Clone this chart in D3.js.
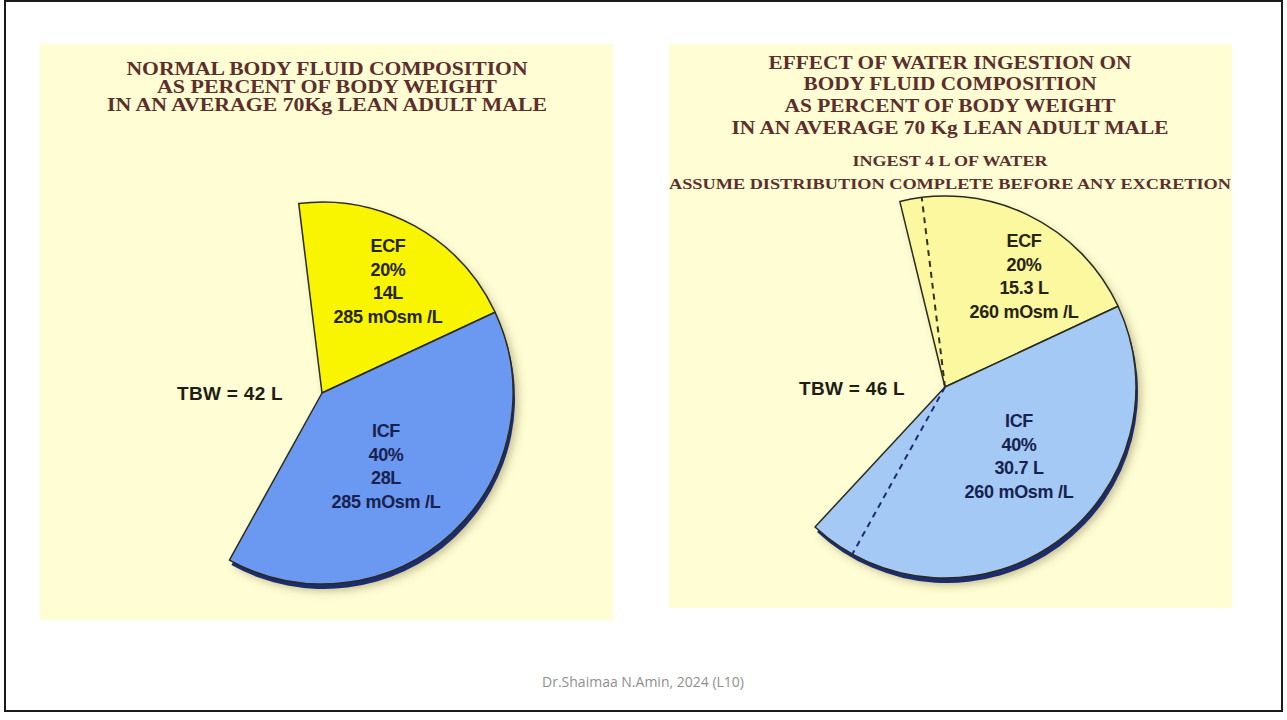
<!DOCTYPE html>
<html>
<head>
<meta charset="utf-8">
<script src="https://cdn.jsdelivr.net/npm/d3@7"></script>
<style>
  body { margin: 0; background: #fff; }
  svg { display: block; }
</style>
</head>
<body>
<svg id="slide" width="1287" height="720"></svg>
<script>
// values
const compartments = ['ECF', 'ICF']
const percentOfWeight = ['20%', '40%']
const normalLitres = [14, 28]
const waterLitres = [15.3, 30.7]
const osmolarity = [285, 260]
const totalBodyWater = [42, 46]
const bodyWeightKg = 70

const leftTitle = [
  'NORMAL BODY FLUID COMPOSITION',
  'AS PERCENT OF BODY WEIGHT',
  'IN AN AVERAGE 70Kg LEAN ADULT MALE'
]
const rightTitle = [
  'EFFECT OF WATER INGESTION ON',
  'BODY FLUID COMPOSITION',
  'AS PERCENT OF BODY WEIGHT',
  'IN AN AVERAGE 70 Kg LEAN ADULT MALE'
]
const rightNote = [
  'INGEST 4 L OF WATER',
  'ASSUME DISTRIBUTION COMPLETE BEFORE ANY EXCRETION'
]
const footer = 'Dr.Shaimaa N.Amin, 2024 (L10)'

// layout
const radius = 191
const boundary = 65 * Math.PI / 180 // fixed ECF / ICF split line
const angle = d3.scaleLinear().domain([0, bodyWeightKg]).range([0, 2 * Math.PI])

const panels = [
  {
    x: 40, y: 44, w: 573, h: 576, cx: 322, cy: 393,
    litres: normalLitres, osm: osmolarity[0], tbw: totalBodyWater[0], sep: '',
    fill: ['#f9f400', '#6b98f0'], rim: ['#55520a', '#1d2c6e'], text: ['#262410', '#17224f'],
    labelX: [66, 64], labelY: [-141, 44],
    title: leftTitle, titleX: 327, titleY: [75, 93, 111], titleW: [401, 340, 440], titleSize: 18,
    note: [], tbwX: 283, tbwY: 400, dashed: false
  },
  {
    x: 669, y: 44, w: 563, h: 564, cx: 945, cy: 387,
    litres: waterLitres, osm: osmolarity[1], tbw: totalBodyWater[1], sep: ' ',
    fill: ['#fbf8a0', '#a4c9f4'], rim: ['#4f4d1c', '#1d2c6e'], text: ['#262410', '#17224f'],
    labelX: [79, 74], labelY: [-140, 40],
    title: rightTitle, titleX: 950, titleY: [69, 90, 112, 134], titleW: [363, 293, 331, 437], titleSize: 18,
    note: rightNote, noteY: [166, 189], noteW: [195, 562],
    tbwX: 905, tbwY: 395, dashed: true
  }
]

const svg = d3.select('#slide')

const defs = svg.append('defs')
defs.append('filter')
  .attr('id', 'soft')
  .attr('x', '-20%').attr('y', '-20%')
  .attr('width', '140%').attr('height', '140%')
  .append('feGaussianBlur')
  .attr('stdDeviation', 4)

// slide frame
svg.append('rect')
  .attr('x', 5).attr('y', 1)
  .attr('width', 1277).attr('height', 710)
  .attr('fill', '#fff')
  .attr('stroke', '#1a1a1a')
  .attr('stroke-width', 2)

const arc = d3.arc().innerRadius(0).outerRadius(radius)

const wedges = (p) => {
  const ecf = angle(p.litres[0])
  const icf = angle(p.litres[1])
  return [
    {i: 0, startAngle: boundary - ecf, endAngle: boundary},
    {i: 1, startAngle: boundary, endAngle: boundary + icf}
  ]
}

panels.forEach((p) => {
  const g = svg.append('g')

  g.append('rect')
    .attr('x', p.x).attr('y', p.y)
    .attr('width', p.w).attr('height', p.h)
    .attr('fill', '#fefdd3')

  const titleFont = 'Liberation Serif, Times New Roman, serif'
  g.selectAll('text.title')
    .data(p.title)
    .enter().append('text')
    .attr('class', 'title')
    .attr('x', p.titleX)
    .attr('y', (d, i) => p.titleY[i])
    .attr('text-anchor', 'middle')
    .attr('textLength', (d, i) => p.titleW[i])
    .attr('lengthAdjust', 'spacingAndGlyphs')
    .style('font-family', titleFont)
    .style('font-weight', 'bold')
    .style('font-size', p.titleSize + 'px')
    .style('fill', '#5c2e2c')
    .text((d) => d)

  g.selectAll('text.note')
    .data(p.note)
    .enter().append('text')
    .attr('class', 'note')
    .attr('x', p.titleX)
    .attr('y', (d, i) => p.noteY[i])
    .attr('text-anchor', 'middle')
    .attr('textLength', (d, i) => p.noteW[i])
    .attr('lengthAdjust', 'spacingAndGlyphs')
    .style('font-family', titleFont)
    .style('font-weight', 'bold')
    .style('font-size', '14px')
    .style('fill', '#5c2e2c')
    .text((d) => d)

  const pie = g.append('g')
    .attr('transform', `translate(${p.cx},${p.cy})`)
  const data = wedges(p)

  // soft drop shadow
  pie.append('g')
    .attr('transform', 'translate(5,7)')
    .attr('filter', 'url(#soft)')
    .selectAll('path')
    .data(data)
    .enter().append('path')
    .attr('d', arc)
    .attr('fill', '#7d6c43')
    .attr('fill-opacity', 0.45)

  // dark rim gives the slab some thickness
  pie.append('g')
    .attr('transform', 'translate(2,5)')
    .selectAll('path')
    .data(data)
    .enter().append('path')
    .attr('d', arc)
    .attr('fill', (d) => p.rim[d.i])

  pie.selectAll('path.wedge')
    .data(data)
    .enter().append('path')
    .attr('class', 'wedge')
    .attr('d', arc)
    .attr('fill', (d) => p.fill[d.i])
    .attr('stroke', '#2b2b1c')
    .attr('stroke-width', 1.5)
    .attr('stroke-linejoin', 'round')

  // where the compartments ended before the water was taken in
  if (p.dashed) {
    const marks = [
      boundary - angle(normalLitres[0]),
      boundary + angle(normalLitres[1])
    ]
    pie.selectAll('line.before')
      .data(marks)
      .enter().append('line')
      .attr('class', 'before')
      .attr('x1', 0).attr('y1', 0)
      .attr('x2', (d) => d3.pointRadial(d, radius)[0])
      .attr('y2', (d) => d3.pointRadial(d, radius)[1])
      .attr('stroke', (d, i) => i ? '#1d2c6e' : '#33321a')
      .attr('stroke-width', 2)
      .attr('stroke-dasharray', '6,5')
  }

  const lines = compartments.map((c, i) => [
    c,
    percentOfWeight[i],
    `${p.litres[i]}${p.sep}L`,
    `${p.osm} mOsm /L`
  ])

  lines.forEach((ls, i) => {
    pie.append('text')
      .attr('x', p.labelX[i])
      .attr('y', p.labelY[i])
      .attr('text-anchor', 'middle')
      .style('font-family', 'Liberation Sans, Arial, sans-serif')
      .style('font-weight', 'bold')
      .style('font-size', '18px')
      .style('letter-spacing', '-0.3px')
      .style('fill', p.text[i])
      .selectAll('tspan')
      .data(ls)
      .enter().append('tspan')
      .attr('x', p.labelX[i])
      .attr('dy', (d, j) => j ? 23.5 : 0)
      .text((d) => d)
  })

  g.append('text')
    .attr('x', p.tbwX)
    .attr('y', p.tbwY)
    .attr('text-anchor', 'end')
    .style('font-family', 'Liberation Sans, Arial, sans-serif')
    .style('font-weight', 'bold')
    .style('font-size', '19px')
    .style('letter-spacing', '0.3px')
    .style('fill', '#1e1e16')
    .text(`TBW = ${p.tbw} L`)
})

svg.append('text')
  .attr('x', 643)
  .attr('y', 687)
  .attr('text-anchor', 'middle')
  .style('font-family', 'Open Sans, sans-serif')
  .style('font-size', '14px')
  .style('fill', '#8f8f8f')
  .text(footer)
</script>
</body>
</html>
